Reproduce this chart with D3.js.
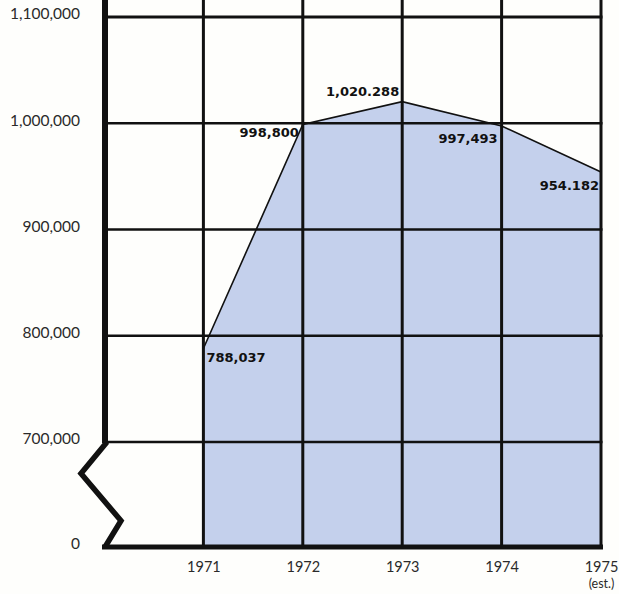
<!DOCTYPE html>
<html>
<head>
<meta charset="utf-8">
<script src="https://d3js.org/d3.v7.min.js"></script>
<style>
  html, body { margin: 0; padding: 0; background: #fefefc; }
  svg { display: block; }
</style>
</head>
<body>
<svg id="chart"></svg>
<script>
// valores
var years = [1971, 1972, 1973, 1974, 1975];
var enrollment = [788037, 998800, 1020288, 997493, 954182];
var valueLabels = ["788,037", "998,800", "1,020.288", "997,493", "954.182"];
var yTicks = [0, 700000, 800000, 900000, 1000000, 1100000];
var gridValues = [700000, 800000, 900000, 1000000, 1100000];
var xTickLabels = ["1971", "1972", "1973", "1974", "1975"];
var xTickNotes = ["", "", "", "", "(est.)"];

var width = 619, height = 594;

var svg = d3.select("#chart")
    .attr("width", width)
    .attr("height", height);

// escala quebrada: 0 -> 700.000 ocupa o mesmo espaço que 100.000
var y = d3.scaleLinear()
    .domain([0, 700000, 1100000])
    .range([547, 442, 17]);

var x = d3.scaleLinear()
    .domain([1970, 1975])
    .range([104, 601]);

var bottom = y(0), top = y(1100000);

// fundo branco da área do gráfico
svg.append("rect")
    .attr("x", x(1970))
    .attr("y", top)
    .attr("width", x(1975) - x(1970))
    .attr("height", bottom - top)
    .attr("fill", "#ffffff");

var pts = years.map(function (d, i) { return { year: d, value: enrollment[i], label: valueLabels[i] }; });

// área azul
var area = d3.area()
    .x(function (d) { return x(d.year); })
    .y0(bottom)
    .y1(function (d) { return y(d.value); });

svg.append("path")
    .datum(pts)
    .attr("d", area)
    .attr("fill", "#c4d0ec");

// grade horizontal
svg.append("g")
    .selectAll("line")
    .data(gridValues)
    .enter().append("line")
    .attr("x1", x(1970))
    .attr("x2", x(1975) + 1.5)
    .attr("y1", function (d) { return y(d); })
    .attr("y2", function (d) { return y(d); })
    .attr("stroke", "#111")
    .attr("stroke-width", function (d) { return d === 1100000 ? 3 : 2.5; });

// grade vertical
svg.append("g")
    .selectAll("line")
    .data(years)
    .enter().append("line")
    .attr("x1", function (d) { return x(d); })
    .attr("x2", function (d) { return x(d); })
    .attr("y1", top - 1.5)
    .attr("y2", bottom)
    .attr("stroke", "#111")
    .attr("stroke-width", 3);

// linha dos dados
var line = d3.line()
    .x(function (d) { return x(d.year); })
    .y(function (d) { return y(d.value); });

svg.append("path")
    .datum(pts)
    .attr("d", line)
    .attr("fill", "none")
    .attr("stroke", "#111")
    .attr("stroke-width", 1.6);

// eixo esquerdo grosso + quebra em zigue-zague
var axX = x(1970) + 1;
var y700 = y(700000);
svg.append("line")
    .attr("x1", axX).attr("x2", axX)
    .attr("y1", top - 1.5).attr("y2", y700 + 1)
    .attr("stroke", "#111")
    .attr("stroke-width", 6);

var span = bottom - y700;
svg.append("path")
    .attr("d", d3.line()([
        [axX + 2, y700],
        [axX - 24, y700 + span * 0.30],
        [axX + 16, y700 + span * 0.75],
        [axX, bottom]
    ]))
    .attr("fill", "none")
    .attr("stroke", "#111")
    .attr("stroke-width", 5.5)
    .attr("stroke-linejoin", "miter");

// eixo de baixo grosso
svg.append("line")
    .attr("x1", axX - 3).attr("x2", x(1975) + 2)
    .attr("y1", bottom).attr("y2", bottom)
    .attr("stroke", "#111")
    .attr("stroke-width", 5);

// rótulos dos valores
var labelPlace = [
    { anchor: "start", dx: 3, dy: 14 },
    { anchor: "end", dx: -4, dy: 12 },
    { anchor: "end", dx: -3, dy: -6 },
    { anchor: "end", dx: -4, dy: 17 },
    { anchor: "end", dx: -2, dy: 18 }
];

svg.append("g")
    .selectAll("text")
    .data(pts)
    .enter().append("text")
    .attr("x", function (d, i) { return x(d.year) + labelPlace[i].dx; })
    .attr("y", function (d, i) { return y(d.value) + labelPlace[i].dy; })
    .attr("text-anchor", function (d, i) { return labelPlace[i].anchor; })
    .attr("font-family", "'DejaVu Sans', sans-serif")
    .attr("font-weight", "bold")
    .attr("font-size", 13)
    .attr("fill", "#111")
    .text(function (d) { return d.label; });

// eixo y (só os textos)
var yAxis = svg.append("g")
    .attr("transform", "translate(80,-3)")
    .call(d3.axisLeft(y)
        .tickValues(yTicks)
        .tickFormat(d3.format(","))
        .tickSize(0)
        .tickPadding(0));

yAxis.select(".domain").remove();
yAxis.selectAll("text")
    .attr("font-family", "Lato, 'Open Sans', sans-serif")
    .attr("font-size", 15.5)
    .attr("fill", "#2a2a2a");

// eixo x
var xAxis = svg.append("g")
    .attr("transform", "translate(0," + (bottom + 15) + ")")
    .call(d3.axisBottom(x)
        .tickValues(years)
        .tickFormat(function (d, i) { return xTickLabels[i]; })
        .tickSize(0)
        .tickPadding(0));

xAxis.select(".domain").remove();
xAxis.selectAll("text")
    .attr("font-family", "Lato, 'Open Sans', sans-serif")
    .attr("font-size", 14.5)
    .attr("fill", "#2a2a2a");

xAxis.selectAll(".tick")
    .filter(function (d, i) { return xTickNotes[i] !== ""; })
    .append("text")
    .attr("y", 17)
    .attr("dy", "0.71em")
    .attr("fill", "#2a2a2a")
    .attr("font-family", "Lato, 'Open Sans', sans-serif")
    .attr("font-size", 12.5)
    .text(function (d) { return xTickNotes[years.indexOf(d)]; });
</script>
</body>
</html>
